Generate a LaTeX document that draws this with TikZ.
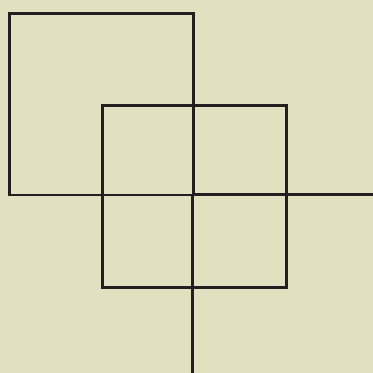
\documentclass[tikz,border=0pt]{standalone}
\usepackage{tikz}

\definecolor{paper}{RGB}{226,224,193}
\definecolor{ink}{RGB}{35,31,32}

\begin{document}
\begin{tikzpicture}[x=1pt, y=-1pt, line width=2.8pt]
  % Background and bounding box
  \fill[paper] (0,0) rectangle (373,373);
  \useasboundingbox (0,0) rectangle (373,373);

  % Define coordinates
  \coordinate (A1) at (9.5,13.5);    % big square, top left
  \coordinate (A2) at (193.5,195);   % big square, bottom right
  \coordinate (B1) at (102.5,105.5); % small square, top left
  \coordinate (B2) at (286.5,287.5); % small square, bottom right

  % Draw the two squares
  \draw[ink] (A1) rectangle (A2);
  \draw[ink] (B1) rectangle (B2);

  % Axes running out of the big square's corner
  \draw[ink] (193.5,194.5) -- (373,194.5);
  \draw[ink] (192.5,195) -- (192.5,373);
\end{tikzpicture}
\end{document}
